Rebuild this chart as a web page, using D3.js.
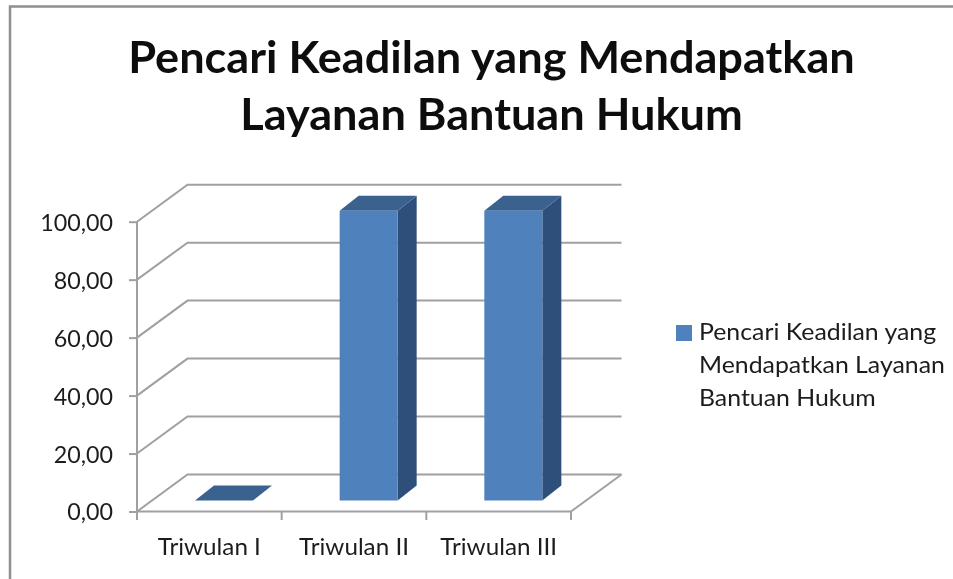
<!DOCTYPE html>
<html>
<head>
<meta charset="utf-8">
<script src="https://cdn.jsdelivr.net/npm/d3@7"></script>
<style>
html,body{margin:0;padding:0;background:#fff;overflow:hidden}
svg{display:block}
text{font-family:Lato,"Open Sans",sans-serif;fill:#1c1c1c}
</style>
</head>
<body>
<svg id="c" width="953" height="579"></svg>
<script>
const categories = ["Triwulan I", "Triwulan II", "Triwulan III"];
const seriesName = "Pencari Keadilan yang Mendapatkan Layanan Bantuan Hukum";
const values = [0, 100, 100];
const yTicks = [0, 20, 40, 60, 80, 100];
const titleLines = ["Pencari Keadilan yang Mendapatkan", "Layanan Bantuan Hukum"];
const legendLines = ["Pencari Keadilan yang", "Mendapatkan Layanan", "Bantuan Hukum"];

const svg = d3.select("#c");
svg.append("defs").append("filter").attr("id","soft")
  .attr("x","-5%").attr("y","-5%").attr("width","110%").attr("height","110%")
  .append("feGaussianBlur").attr("stdDeviation",0.5);
const root = svg.append("g").attr("filter","url(#soft)");
const W = 953, H = 579;
const GRAY = "#a0a0a0";
const x = d3.scaleBand().domain(categories).range([137, 571]);
const y = d3.scaleLinear().domain([0, 100]).range([511.5, 221.7]);
const wallDX = 50.5, wallDY = -37;
const barDX = 19, barDY = -15, barW = 58, barInsetX = 58, barInsetY = 11;

function stretch(sel, k){
  sel.each(function(){
    const n = this.getComputedTextLength();
    d3.select(this).attr("textLength", n*k).attr("lengthAdjust","spacingAndGlyphs");
  });
}

// frame
root.append("path").attr("d", `M10,${H}V6.5H${W}`).attr("fill","none").attr("stroke","#8f8f8f").attr("stroke-width",2.5);

// title
root.append("g").selectAll("text").data(titleLines).join("text")
  .attr("x", 491.5).attr("y",(d,i)=>73+i*57).attr("text-anchor","middle")
  .attr("font-size",44).attr("font-weight",700).style("fill","#111").text(d=>d)
  .call(stretch,1.025);

// gridlines on side and back wall
const grid = root.append("g").attr("fill","none").attr("stroke",GRAY).attr("stroke-width",2);
grid.selectAll("path").data(yTicks).join("path")
  .attr("d", t => `M${x.range()[0]},${y(t)}L${x.range()[0]+wallDX},${y(t)+wallDY}H${x.range()[1]+wallDX}`);
// floor right edge
grid.append("path").attr("d",`M${x.range()[1]},${y(0)}L${x.range()[1]+wallDX},${y(0)+wallDY}`);

// axes
const yAxis = root.append("g").attr("transform",`translate(${x.range()[0]},0)`)
  .call(d3.axisLeft(y).tickValues(yTicks).tickSize(8).tickPadding(16).tickFormat(d=>d3.format(".2f")(d).replace(".",",")));
const xAxis = root.append("g").attr("transform",`translate(0,${y(0)})`)
  .call(d3.axisBottom(x).tickSize(0).tickPadding(26));
xAxis.append("g").selectAll("line").data(d3.range(categories.length+1)).join("line")
  .attr("x1",i=>x.range()[0]+i*x.step()).attr("x2",i=>x.range()[0]+i*x.step())
  .attr("y1",0).attr("y2",8.5);
[yAxis,xAxis].forEach(a=>{
  a.selectAll("path.domain").attr("stroke",GRAY).attr("stroke-width",2);
  a.selectAll("line").attr("stroke",GRAY).attr("stroke-width",2);
  a.selectAll("text").style("font-family","Lato,sans-serif").style("fill","#1c1c1c");
});
yAxis.selectAll("path.domain").attr("d",`M0,${y(100)}V${y(0)+8.5}`);
xAxis.selectAll("path.domain").attr("d",`M${x.range()[0]},0H${x.range()[1]}`);
yAxis.selectAll("text").attr("font-size",23.5).attr("dy","0.36em").call(stretch,0.99);
xAxis.selectAll("text").attr("font-size",24).call(stretch,1.01);

// bars
const bars = root.append("g").selectAll("g").data(categories.map((c,i)=>({c,v:values[i]}))).join("g")
  .attr("transform",d=>`translate(${x(d.c)+barInsetX},${y(0)-barInsetY})`);
bars.append("path").attr("fill","#2f5079")
  .attr("d",d=>{const h=y(0)-y(d.v);return `M${barW},0V${-h}l${barDX},${barDY}V${barDY}Z`;});
bars.append("path").attr("fill","#3b628f")
  .attr("d",d=>{const h=y(0)-y(d.v);return `M0,${-h}H${barW}l${barDX},${barDY}H${barDX}Z`;});
bars.append("rect").attr("fill","#4f81bd").attr("width",barW)
  .attr("y",d=>-(y(0)-y(d.v))).attr("height",d=>y(0)-y(d.v));

// legend
root.append("rect").attr("x",676).attr("y",325).attr("width",16).attr("height",16).attr("fill","#4f81bd");
root.append("g").selectAll("text").data(legendLines).join("text")
  .attr("x",699).attr("y",(d,i)=>340+i*33).attr("font-size",24).text(d=>d)
  .call(stretch,1.035);
</script>
</body>
</html>
